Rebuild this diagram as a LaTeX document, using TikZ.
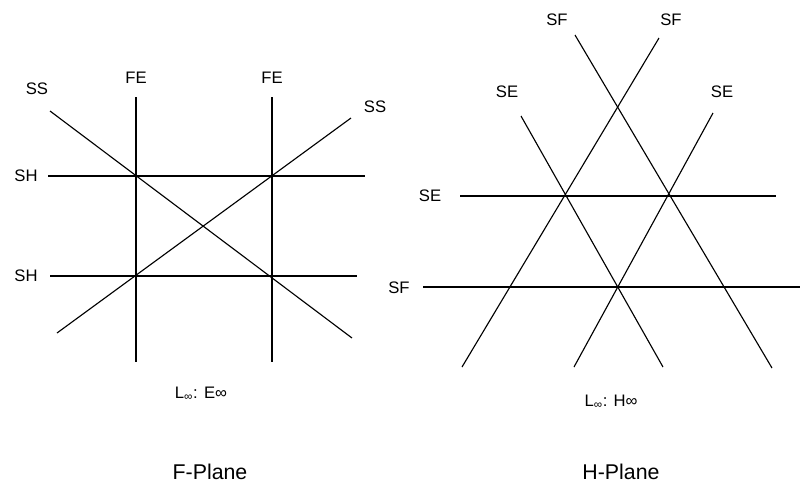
\documentclass[tikz,border=0pt]{standalone}
\usepackage{fontspec}
\setmainfont{Liberation Sans}
\usetikzlibrary{calc}

\begin{document}
\begin{tikzpicture}[x=0.75pt, y=-0.75pt,
  planeline/.style={line width=0.85pt},
  lbl/.style={font=\fontsize{12.5}{15}\selectfont, inner sep=0pt},
  planename/.style={font=\fontsize{16}{19}\selectfont, inner sep=0pt}]
  \useasboundingbox (0,0) rectangle (801,487);

  % F-Plane end points
  \coordinate (fea1) at (136,97);  \coordinate (fea2) at (136,362);
  \coordinate (feb1) at (272,97);  \coordinate (feb2) at (272,362);
  \coordinate (sha1) at (48,176);  \coordinate (sha2) at (365,176);
  \coordinate (shb1) at (50,276);  \coordinate (shb2) at (357,276);
  \coordinate (ssa1) at (50,111);  \coordinate (ssa2) at (352,338);
  \coordinate (ssb1) at (57,333);  \coordinate (ssb2) at (351,118);

  % F-Plane lines
  \draw[planeline] (fea1) -- (fea2);
  \draw[planeline] (feb1) -- (feb2);
  \draw[planeline] (sha1) -- (sha2);
  \draw[planeline] (shb1) -- (shb2);
  \draw[planeline] (ssa1) -- (ssa2);
  \draw[planeline] (ssb1) -- (ssb2);

  % F-Plane labels
  \node[lbl] (fealbl) at (136,78) {FE};
  \node[lbl] (feblbl) at (272,78) {FE};
  \node[lbl] (ssalbl) at (37,89) {SS};
  \node[lbl] (ssblbl) at (375,107) {SS};
  \node[lbl] (shalbl) at (26,176) {SH};
  \node[lbl] (shblbl) at (26,276) {SH};
  \node[lbl] (flinf) at (201,394) {L\textsubscript{∞}: E∞};
  \node[planename] (fname) at (210,472) {F-Plane};

  % H-Plane end points
  \coordinate (sfa1) at (575,35);  \coordinate (sfa2) at (772,368);
  \coordinate (sfb1) at (659,38);  \coordinate (sfb2) at (462,367);
  \coordinate (sea1) at (521,116); \coordinate (sea2) at (663,367);
  \coordinate (seb1) at (713,113); \coordinate (seb2) at (574,367);
  \coordinate (sec1) at (460,196); \coordinate (sec2) at (776,196);
  \coordinate (sfc1) at (423,287); \coordinate (sfc2) at (800,287);

  % H-Plane lines
  \draw[planeline] (sfa1) -- (sfa2);
  \draw[planeline] (sfb1) -- (sfb2);
  \draw[planeline] (sea1) -- (sea2);
  \draw[planeline] (seb1) -- (seb2);
  \draw[planeline] (sec1) -- (sec2);
  \draw[planeline] (sfc1) -- (sfc2);

  % H-Plane labels
  \node[lbl] (sfalbl) at (557,20) {SF};
  \node[lbl] (sfblbl) at (671,20) {SF};
  \node[lbl] (sealbl) at (507,92) {SE};
  \node[lbl] (seblbl) at (722,92) {SE};
  \node[lbl] (seclbl) at (430,196) {SE};
  \node[lbl] (sfclbl) at (399,288) {SF};
  \node[lbl] (hlinf) at (611,402) {L\textsubscript{∞}: H∞};
  \node[planename] (hname) at (621,472) {H-Plane};
\end{tikzpicture}
\end{document}
